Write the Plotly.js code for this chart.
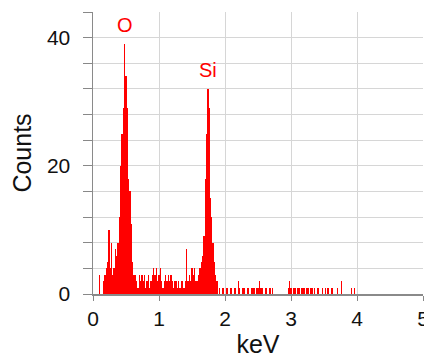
<!DOCTYPE html>
<html>
<head>
<meta charset="utf-8">
<script src="https://cdn.plot.ly/plotly-3.0.1.min.js"></script>
<style>
  html, body { margin: 0; padding: 0; background: #ffffff; }
  #chart { width: 424px; height: 358px; }
</style>
</head>
<body>
<div id="chart"></div>
<script>
// Channel axis of the spectrum (keV): first channel and channel width
const channelStart = 0;
const channelWidth = 0.02;

// Counts per channel, 0.00 .. 4.00 keV
const counts = [
  0,0,0,0,0,3,0,0,2,3,
  4,5,10,4,8,3,4,7,6,8,
  12,20,25,29,39,34,29,18,16,11,
  5,3,3,2,1,3,2,3,2,3,
  1,2,3,1,2,3,4,3,4,2,
  3,4,2,1,2,3,2,3,2,3,
  2,1,2,2,1,2,1,2,2,1,
  2,7,2,3,2,4,3,4,2,2,
  3,4,5,6,9,18,25,32,29,15,
  12,8,5,3,2,0,1,0,1,1,
  0,1,1,0,1,1,0,1,1,0,
  2,1,0,1,1,1,0,1,1,0,
  1,1,1,0,1,1,2,1,1,0,
  0,1,0,0,1,0,1,0,0,0,
  0,0,0,0,0,0,0,0,1,2,
  1,0,1,1,0,1,1,0,1,1,
  1,0,1,1,0,1,1,0,1,0,
  1,1,0,0,1,0,1,0,1,0,
  0,1,0,0,0,1,0,0,2,0,
  0,0,0,0,0,0,1,0,1,0,
  0
];

// Peak labels
const peakLabels = ['O', 'Si'];
const peakX = [0.49, 1.74];
const peakY = [42, 35];

// Axis ticks
const xTickVals = [0, 1, 2, 3, 4, 5];
const yTickVals = [0, 4, 8, 12, 16, 20, 24, 28, 32, 36, 40, 44];
const yTickText = ['0', '', '', '', '', '20', '', '', '', '', '40', ''];

const FONT = 'Liberation Sans, Arial, Helvetica, sans-serif';

const trace = {
  type: 'bar',
  x0: channelStart,
  dx: channelWidth,
  y: counts,
  marker: { color: '#ff0000', line: { width: 0 } },
  hoverinfo: 'skip'
};

const layout = {
  width: 424,
  height: 358,
  margin: { l: 93, r: 1, t: 12, b: 64 },
  paper_bgcolor: '#ffffff',
  plot_bgcolor: '#ffffff',
  bargap: 0,
  showlegend: false,
  font: { family: FONT, color: '#111111' },
  xaxis: {
    range: [0, 5],
    tickmode: 'array',
    tickvals: xTickVals,
    ticks: 'outside',
    ticklen: 5,
    tickcolor: '#888888',
    ticklabeloverflow: 'allow',
    tickfont: { size: 21, family: FONT, color: '#111111' },
    showgrid: true,
    gridcolor: '#d6d6d6',
    gridwidth: 1,
    zeroline: false,
    showline: true,
    linecolor: '#8a8a8a',
    linewidth: 1.5,
    title: { text: 'keV', font: { size: 25, family: FONT, color: '#111111' }, standoff: 8 }
  },
  yaxis: {
    range: [0, 44],
    tickmode: 'array',
    tickvals: yTickVals,
    ticktext: yTickText,
    ticks: 'outside',
    ticklen: 9,
    tickcolor: '#888888',
    ticklabelstandoff: 8,
    tickfont: { size: 21, family: FONT, color: '#111111' },
    showgrid: true,
    gridcolor: '#d6d6d6',
    gridwidth: 1,
    zeroline: false,
    showline: true,
    linecolor: '#8a8a8a',
    linewidth: 1.5,
    title: { text: 'Counts', font: { size: 25, family: FONT, color: '#111111' }, standoff: 8 }
  },
  annotations: peakLabels.map((t, i) => ({
    text: t,
    x: peakX[i],
    y: peakY[i],
    xref: 'x',
    yref: 'y',
    showarrow: false,
    font: { size: 20, family: FONT, color: '#ff0000' }
  }))
};

Plotly.newPlot('chart', [trace], layout, { displayModeBar: false, staticPlot: true });
</script>
</body>
</html>
